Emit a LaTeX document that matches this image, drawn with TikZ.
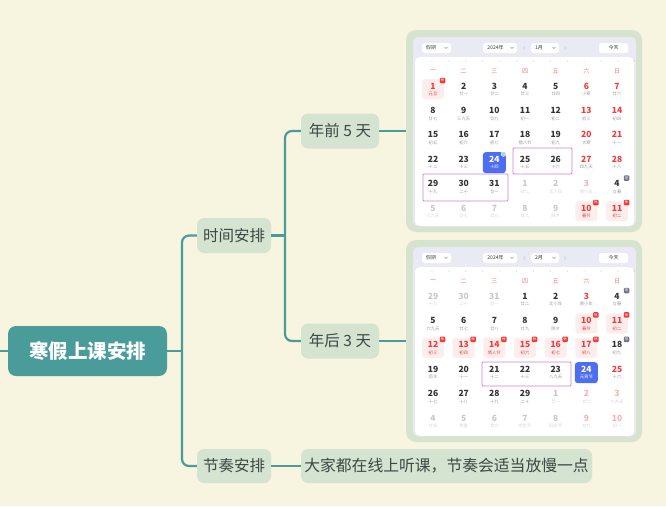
\documentclass[tikz,border=0pt]{standalone}
\usepackage{fontspec}
\setmainfont{Noto Sans CJK SC}
\definecolor{bgc}{HTML}{F7F4E0}
\definecolor{teal1}{HTML}{4A9C9B}
\definecolor{nodegreen}{HTML}{D5E4D0}
\definecolor{textdark}{HTML}{3A4846}
\definecolor{calborder}{HTML}{D6E4CF}
\definecolor{lav}{HTML}{EAEAF4}
\definecolor{todayblue}{HTML}{4D6EF0}
\definecolor{badgeblue}{HTML}{B9C6F8}
\definecolor{redc}{HTML}{F23B3B}
\definecolor{wkred}{HTML}{F07C7C}
\definecolor{pinkc}{HTML}{FDEDED}
\definecolor{badgered}{HTML}{F03A3A}
\definecolor{badgegrey}{HTML}{6E7389}
\definecolor{numdark}{HTML}{333333}
\definecolor{lungrey}{HTML}{9A9A9A}
\definecolor{outgrey}{HTML}{C9C9C9}
\definecolor{outlun}{HTML}{D4D4D4}
\definecolor{outred}{HTML}{F7B3B3}
\definecolor{selpurple}{HTML}{D080D0}
\definecolor{ctlgrey}{HTML}{555555}
\definecolor{dotgrey}{HTML}{C8C8D2}

\newcommand\calcell[6]{%
  \node[dnum,text=#5] (\calid-#1-#2) at ({433+30.67*#1},{86+24.4*#2}) {#3};%
  \node[dlun,text=#6] (\calid-#1-#2-l) at ({433+30.67*#1},{94+24.4*#2}) {#4};}
\newcommand\calN[4]{\calcell{#1}{#2}{#3}{#4}{numdark}{lungrey}}
\newcommand\calW[4]{\calcell{#1}{#2}{#3}{#4}{redc}{lungrey}}
\newcommand\calG[4]{\calcell{#1}{#2}{#3}{#4}{outgrey}{outlun}}
\newcommand\calL[4]{\calcell{#1}{#2}{#3}{#4}{outred}{outlun}}
\newcommand\calH[4]{%
  \fill[pinkc, rounded corners=3pt] ({433+30.67*#1-11},{79+24.4*#2}) rectangle ++(22,20);%
  \calcell{#1}{#2}{#3}{#4}{redc}{redc}%
  \node[badge, fill=badgered] (\calid-#1-#2-b) at ({433+30.67*#1+9.5},{80.5+24.4*#2}) {休};}
\newcommand\calB[4]{%
  \calcell{#1}{#2}{#3}{#4}{numdark}{lungrey}%
  \node[badge, fill=badgegrey] (\calid-#1-#2-b) at ({433+30.67*#1+9.5},{80.5+24.4*#2}) {班};}
\newcommand\calT[4]{%
  \fill[todayblue, rounded corners=3pt] ({433+30.67*#1-11.5},{79+24.4*#2}) rectangle ++(23,21);%
  \calcell{#1}{#2}{#3}{#4}{white}{white}}
\newcommand\calhead[1]{%
  \fill[lav, rounded corners=5pt] (413,37) rectangle (636,226);
  \fill[white, rounded corners=5pt] (415,57) rectangle (634,226);
  \node[ctl, minimum width=29pt] (\calid-h1) at (436.5,48) {};
  \node[ctltext] (\calid-h1t) at (431,48) {假期};
  \draw[chev] (444.5,47) -- (446,48.5) -- (447.5,47);
  \node[ctl, minimum width=34pt] (\calid-h2) at (500,48) {};
  \node[ctltext, text=numdark] (\calid-h2t) at (495.5,48) {2024年};
  \draw[chev] (510.5,47) -- (512,48.5) -- (513.5,47);
  \draw[chev, draw=outgrey] (525,46.2) -- (523.5,48) -- (525,49.8);
  \node[ctl, minimum width=28pt] (\calid-h3) at (545,48) {};
  \node[ctltext, text=numdark] (\calid-h3t) at (539,48) {#1};
  \draw[chev] (552.5,47) -- (554,48.5) -- (555.5,47);
  \draw[chev, draw=outgrey] (564.5,46.2) -- (566,48) -- (564.5,49.8);
  \node[ctl, minimum width=29pt] (\calid-h4) at (613.5,48) {};
  \node[ctltext, text=numdark] (\calid-h4t) at (613.5,48) {今天};
  \foreach \k in {0,...,12} \fill[dotgrey] ({432+16.9*\k},61) circle (0.6pt);
  \foreach \j/\w in {0/一,1/二,2/三,3/四,4/五,5/六,6/日}
    \node[wk] (\calid-w\j) at ({433+30.67*\j},71) {\w};
}

\begin{document}
\begin{tikzpicture}[x=1pt,y=-1pt,
  conn/.style={draw=teal1, line width=2.2pt, rounded corners=7pt},
  mmroot/.style={fill=teal1, rounded corners=8pt, text=white,
    font=\fontsize{19.5}{20}\selectfont\bfseries, minimum width=159pt,
    minimum height=50pt, inner sep=0pt},
  mmsub/.style={fill=nodegreen, rounded corners=7pt, text=textdark,
    font=\fontsize{15.5}{16}\selectfont, inner sep=0pt, minimum height=35pt},
  calframe/.style={fill=calborder, rounded corners=10pt, minimum width=236pt,
    minimum height=202pt, inner sep=0pt},
  dnum/.style={font=\fontsize{8.5}{9}\selectfont\bfseries, inner sep=0pt},
  dlun/.style={font=\fontsize{4.3}{5}\selectfont, inner sep=0pt},
  badge/.style={minimum size=5.5pt, inner sep=0pt, rounded corners=1pt,
    text=white, font=\fontsize{3.5}{4}\selectfont},
  wk/.style={text=wkred, font=\fontsize{6}{7}\selectfont, inner sep=0pt},
  ctl/.style={fill=white, rounded corners=2.5pt, minimum height=10pt, inner sep=0pt},
  ctltext/.style={font=\fontsize{5}{6}\selectfont, text=ctlgrey, inner sep=0pt},
  chev/.style={draw=lungrey, line width=0.5pt},
  selbox/.style={draw=selpurple, line width=0.9pt, rounded corners=1pt}]

\fill[bgc] (0,0) rectangle (666,506);
\useasboundingbox (0,0) rectangle (666,506);

% ---------- mind map nodes ----------
\node[mmroot] (root) at (87.5,351) {寒假上课安排};
\node[mmsub, minimum width=74pt] (t1) at (234,235.5) {时间安排};
\node[mmsub, minimum width=74pt, minimum height=34pt] (t2) at (234,466) {节奏安排};
\node[mmsub, minimum width=78pt] (a1) at (340,131) {年前 5 天};
\node[mmsub, minimum width=78pt] (a2) at (340,341) {年后 3 天};
\node[mmsub, minimum width=291pt, minimum height=34pt, font=\fontsize{15.8}{17}\selectfont]
  (desc) at (446.5,466) {大家都在线上听课，节奏会适当放慢一点};
\node[calframe] (cal1) at (524,131) {};
\node[calframe] (cal2) at (524,341) {};

\coordinate (stub) at (0,351);
\coordinate (j1) at (182,351);
\coordinate (j2) at (285,235.5);

% ---------- connectors ----------
\draw[conn] (stub) -- (root.west);
\draw[conn] (root.east) -- (j1);
\draw[conn] (t1.west) -| (j1) |- (t2.west);
\draw[conn] (t1.east) -- (j2);
\draw[conn] (a1.west) -| (j2) |- (a2.west);
\draw[conn] (a1.east) -- (cal1.west);
\draw[conn] (a2.east) -- (cal2.west);
\draw[conn] (t2.east) -- (desc.west);

% ---------- January calendar ----------
\begin{scope}
\def\calid{ja}
\calhead{1月}
\calH{0}{0}{1}{元旦}\calN{1}{0}{2}{廿一}\calN{2}{0}{3}{廿二}\calN{3}{0}{4}{廿三}\calN{4}{0}{5}{廿四}\calW{5}{0}{6}{小寒}\calW{6}{0}{7}{廿六}
\calN{0}{1}{8}{廿七}\calN{1}{1}{9}{三九天}\calN{2}{1}{10}{廿九}\calN{3}{1}{11}{初一}\calN{4}{1}{12}{初二}\calW{5}{1}{13}{初三}\calW{6}{1}{14}{初四}
\calN{0}{2}{15}{初五}\calN{1}{2}{16}{初六}\calN{2}{2}{17}{初七}\calN{3}{2}{18}{腊八节}\calN{4}{2}{19}{初九}\calW{5}{2}{20}{大寒}\calW{6}{2}{21}{十一}
\calN{0}{3}{22}{十二}\calN{1}{3}{23}{十三}\calT{2}{3}{24}{十四}\calN{3}{3}{25}{十五}\calN{4}{3}{26}{十六}\calW{5}{3}{27}{四九天}\calW{6}{3}{28}{十八}
\calN{0}{4}{29}{十九}\calN{1}{4}{30}{二十}\calN{2}{4}{31}{廿一}\calG{3}{4}{1}{廿二}\calG{4}{4}{2}{北小年}\calL{5}{4}{3}{南小年}\calB{6}{4}{4}{立春}
\calG{0}{5}{5}{六九天}\calG{1}{5}{6}{廿七}\calG{2}{5}{7}{廿八}\calG{3}{5}{8}{廿九}\calG{4}{5}{9}{除夕}\calH{5}{5}{10}{春节}\calH{6}{5}{11}{初二}
\fill[badgeblue, draw=white, line width=0.4pt] (503.5,154) circle (2.4pt);
\draw[selbox] (513,148) rectangle (572,174);
\draw[selbox] (423,174) rectangle (508,201);
\end{scope}

% ---------- February calendar ----------
\begin{scope}[shift={(0,210)}]
\def\calid{fe}
\calhead{2月}
\calG{0}{0}{29}{十九}\calG{1}{0}{30}{二十}\calG{2}{0}{31}{廿一}\calN{3}{0}{1}{廿二}\calN{4}{0}{2}{北小年}\calW{5}{0}{3}{南小年}\calB{6}{0}{4}{立春}
\calN{0}{1}{5}{六九天}\calN{1}{1}{6}{廿七}\calN{2}{1}{7}{廿八}\calN{3}{1}{8}{廿九}\calN{4}{1}{9}{除夕}\calH{5}{1}{10}{春节}\calH{6}{1}{11}{初二}
\calH{0}{2}{12}{初三}\calH{1}{2}{13}{初四}\calH{2}{2}{14}{情人节}\calH{3}{2}{15}{初六}\calH{4}{2}{16}{初七}\calH{5}{2}{17}{初八}\calB{6}{2}{18}{初九}
\calN{0}{3}{19}{雨水}\calN{1}{3}{20}{十一}\calN{2}{3}{21}{十二}\calN{3}{3}{22}{十三}\calN{4}{3}{23}{八九天}\calT{5}{3}{24}{元宵节}\calW{6}{3}{25}{十六}
\calN{0}{4}{26}{十七}\calN{1}{4}{27}{十八}\calN{2}{4}{28}{十九}\calN{3}{4}{29}{二十}\calG{4}{4}{1}{廿一}\calL{5}{4}{2}{廿二}\calL{6}{4}{3}{九九天}
\calG{0}{5}{4}{廿四}\calG{1}{5}{5}{惊蛰}\calG{2}{5}{6}{廿六}\calG{3}{5}{7}{女生节}\calG{4}{5}{8}{妇女节}\calL{5}{5}{9}{廿九}\calL{6}{5}{10}{初一}
\draw[selbox] (482,152) rectangle (571,176);
\end{scope}
\end{tikzpicture}
\end{document}
